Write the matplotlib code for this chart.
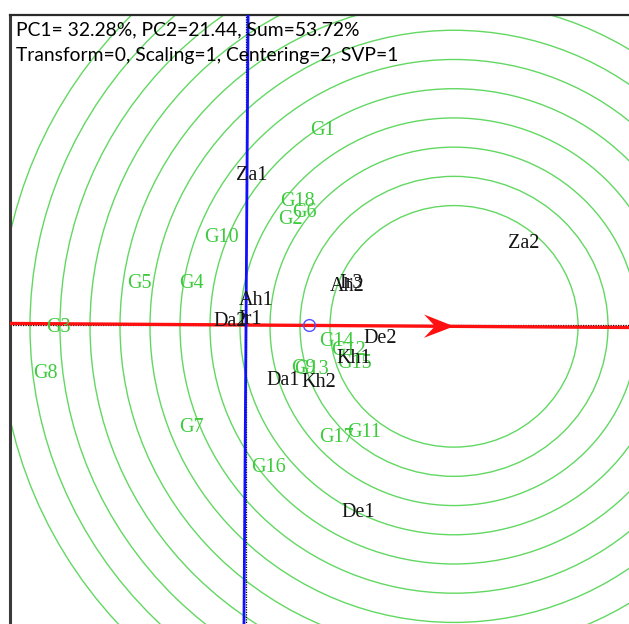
import matplotlib
matplotlib.use("Agg")
import matplotlib.pyplot as plt
import numpy as np
from matplotlib.patches import Circle, Polygon

# Environment scores (PC1, PC2)
env_names = ["Za1", "Za2", "Ah1", "Ah2", "Ir3", "Da2", "Ir1", "De2", "Kh1", "Da1", "Kh2", "De1"]
env_pc1 = [0.06, 2.78, 0.10, 1.01, 1.05, -0.16, 0.04, 1.34, 1.08, 0.37, 0.73, 1.12]
env_pc2 = [1.53, 0.84, 0.25, 0.40, 0.43, 0.04, 0.06, -0.14, -0.34, -0.57, -0.59, -1.93]

# Genotype scores (PC1, PC2)
gen_names = ["G1", "G2", "G3", "G4", "G5", "G6", "G7", "G8", "G9",
             "G10", "G11", "G12", "G13", "G14", "G15", "G16", "G17", "G18"]
gen_pc1 = [0.76, 0.44, -1.88, -0.55, -1.07, 0.58, -0.55, -2.01, 0.57,
           -0.25, 1.18, 1.03, 0.65, 0.90, 1.08, 0.23, 0.90, 0.51]
gen_pc2 = [2.00, 1.08, -0.03, 0.43, 0.43, 1.16, -1.05, -0.50, -0.45,
           0.90, -1.10, -0.26, -0.46, -0.17, -0.40, -1.46, -1.15, 1.27]

# Average environment and ideal point along the average-environment axis
avg_env = (0.63, -0.0042)
ideal_pc1 = 2.08
ring_radii = [1.24, 1.54, 1.84, 2.14, 2.44, 2.74, 3.04, 3.34, 3.64, 3.94, 4.24, 4.54]

header_1 = "PC1= 32.28%, PC2=21.44, Sum=53.72%"
header_2 = "Transform=0, Scaling=1, Centering=2, SVP=1"

GREEN_RING = "#62D862"
GREEN_TEXT = "#3DCB3D"

W, H = 629, 624
fig = plt.figure(figsize=(W / 100, H / 100), dpi=100)
fig.patch.set_facecolor("white")

# axes run past the right and bottom edges of the canvas
ax = fig.add_axes([10 / W, (H - 635) / H, 635 / W, 620 / H])
ax.set_xlim(-2.36, 3.99)
ax.set_ylim(-3.183, 3.183)
ax.set_autoscale_on(False)
ax.set_xticks([])
ax.set_yticks([])
for side in ("right", "bottom"):
    ax.spines[side].set_visible(False)
ax.spines["left"].set_linewidth(2.2)
ax.spines["left"].set_color("#3a3a3a")
ax.spines["top"].set_linewidth(1.6)
ax.spines["top"].set_color("#2a2a2a")

# AEA direction through the origin and the average environment
d = np.array(avg_env) / np.hypot(*avg_env)
perp = np.array([-d[1], d[0]])
ideal = d * ideal_pc1 / d[0]

for r in ring_radii:
    ax.add_patch(Circle(ideal, r, fill=False, ec=GREEN_RING, lw=1.0, zorder=1))

ax.axhline(0, color="black", ls=(0, (1, 1)), lw=0.9, zorder=2)
ax.axvline(0, color="black", ls=(0, (1, 1)), lw=0.9, zorder=2)

t = np.array([-20, 20])
ax.plot(t * d[0], t * d[1], color="#FF1010", lw=2.4, zorder=3)
ax.plot(t * perp[0], t * perp[1], color="#1010FF", lw=2.0, zorder=3)

# arrowhead at the ideal point
back, half, notch = 0.30, 0.12, 0.19
head = [ideal,
        ideal - back * d + half * perp,
        ideal - notch * d,
        ideal - back * d - half * perp]
ax.add_patch(Polygon(head, closed=True, fc="#FF1010", ec="none", zorder=4))

ax.plot(*avg_env, marker="o", ms=8.5, mfc="none", mec="#5050FF", mew=1.0, zorder=5)

for name, x, y in zip(gen_names, gen_pc1, gen_pc2):
    ax.text(x, y, name, color=GREEN_TEXT, fontsize=14.5, family="Liberation Serif",
            ha="center", va="center", zorder=6)
for name, x, y in zip(env_names, env_pc1, env_pc2):
    ax.text(x, y, name, color="#141414", fontsize=14.5, family="Liberation Serif",
            ha="center", va="center", zorder=7)

fig.text(16 / W, 1 - 30 / H, header_1, fontsize=13.9, family="Lato", va="center", color="black")
fig.text(16 / W, 1 - 55 / H, header_2, fontsize=13.9, family="Lato", va="center", color="black")

fig.savefig("out.png", dpi=100, facecolor="white")
